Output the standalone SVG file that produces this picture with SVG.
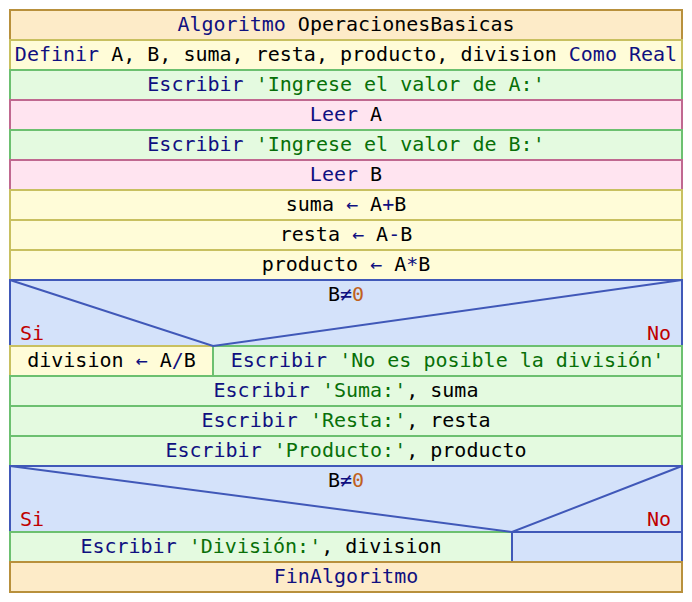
<svg xmlns="http://www.w3.org/2000/svg" width="692" height="602" viewBox="0 0 692 602">
<style>
text{font-family:"DejaVu Sans Mono","Liberation Mono",monospace;font-size:20px;fill:#000;text-anchor:middle}
.or{fill:#fdebc8;stroke:#b8903c;stroke-width:2}
.ye{fill:#fffcd8;stroke:#c8c060;stroke-width:2}
.gr{fill:#e4fae0;stroke:#6cc070;stroke-width:2}
.pk{fill:#ffe4f0;stroke:#c06890;stroke-width:2}
.bl{fill:#d4e2fa;stroke:#4058b8;stroke-width:2}
.dg{fill:none;stroke:#4058b8;stroke-width:2}
.k{fill:#101080}
.s{fill:#087008}
.n{fill:#c06020}
.r{fill:#c00000}
</style>
<rect width="692" height="602" fill="#fff"/>
<g id="inicio"><rect class="or" x="10" y="10" width="672" height="30"/><text x="346" y="31"><tspan class="k">Algoritmo</tspan> OperacionesBasicas</text></g>
<g id="definir"><rect class="ye" x="10" y="40" width="672" height="30"/><text x="346" y="61"><tspan class="k">Definir</tspan> A, B, suma, resta, producto, division <tspan class="k">Como Real</tspan></text></g>
<g id="escribir1"><rect class="gr" x="10" y="70" width="672" height="30"/><text x="346" y="91"><tspan class="k">Escribir</tspan> <tspan class="s">'Ingrese el valor de A:'</tspan></text></g>
<g id="leer1"><rect class="pk" x="10" y="100" width="672" height="30"/><text x="346" y="121"><tspan class="k">Leer</tspan> A</text></g>
<g id="escribir2"><rect class="gr" x="10" y="130" width="672" height="30"/><text x="346" y="151"><tspan class="k">Escribir</tspan> <tspan class="s">'Ingrese el valor de B:'</tspan></text></g>
<g id="leer2"><rect class="pk" x="10" y="160" width="672" height="30"/><text x="346" y="181"><tspan class="k">Leer</tspan> B</text></g>
<g id="suma"><rect class="ye" x="10" y="190" width="672" height="30"/><text x="346" y="211">suma <tspan class="k">←</tspan> A<tspan class="k">+</tspan>B</text></g>
<g id="resta"><rect class="ye" x="10" y="220" width="672" height="30"/><text x="346" y="241">resta <tspan class="k">←</tspan> A<tspan class="k">-</tspan>B</text></g>
<g id="producto"><rect class="ye" x="10" y="250" width="672" height="30"/><text x="346" y="271">producto <tspan class="k">←</tspan> A<tspan class="k">*</tspan>B</text></g>
<g id="si1"><rect class="bl" x="10" y="280" width="672" height="66"/><text x="346" y="301">B<tspan class="k">≠</tspan><tspan class="n">0</tspan></text><text class="r" x="20" y="340" style="text-anchor:start">Si</text><text class="r" x="671" y="340" style="text-anchor:end">No</text></g>
<g id="division"><rect class="ye" x="10" y="346" width="203" height="30"/><text x="111.5" y="367">division <tspan class="k">←</tspan> A<tspan class="k">/</tspan>B</text></g>
<g id="noposible"><rect class="gr" x="213" y="346" width="469" height="30"/><text x="447.5" y="367"><tspan class="k">Escribir</tspan> <tspan class="s">'No es posible la división'</tspan></text></g>
<g id="esuma"><rect class="gr" x="10" y="376" width="672" height="30"/><text x="346" y="397"><tspan class="k">Escribir</tspan> <tspan class="s">'Suma:'</tspan>, suma</text></g>
<g id="eresta"><rect class="gr" x="10" y="406" width="672" height="30"/><text x="346" y="427"><tspan class="k">Escribir</tspan> <tspan class="s">'Resta:'</tspan>, resta</text></g>
<g id="eproducto"><rect class="gr" x="10" y="436" width="672" height="30"/><text x="346" y="457"><tspan class="k">Escribir</tspan> <tspan class="s">'Producto:'</tspan>, producto</text></g>
<g id="si2"><rect class="bl" x="10" y="466" width="672" height="66"/><text x="346" y="487">B<tspan class="k">≠</tspan><tspan class="n">0</tspan></text><text class="r" x="20" y="526" style="text-anchor:start">Si</text><text class="r" x="671" y="526" style="text-anchor:end">No</text></g>
<g id="edivision"><rect class="gr" x="10" y="532" width="502" height="30"/><text x="261" y="553"><tspan class="k">Escribir</tspan> <tspan class="s">'División:'</tspan>, division</text></g>
<g id="vacio"><rect class="bl" x="512" y="532" width="170" height="30"/></g>
<g id="fin"><rect class="or" x="10" y="562" width="672" height="30"/><text x="346" y="583" class="k">FinAlgoritmo</text></g>
<g id="connectors">
<polyline class="dg" points="10,280 213,346 682,280"/>
<polyline class="dg" points="10,466 512,532 682,466"/>
</g>
</svg>
